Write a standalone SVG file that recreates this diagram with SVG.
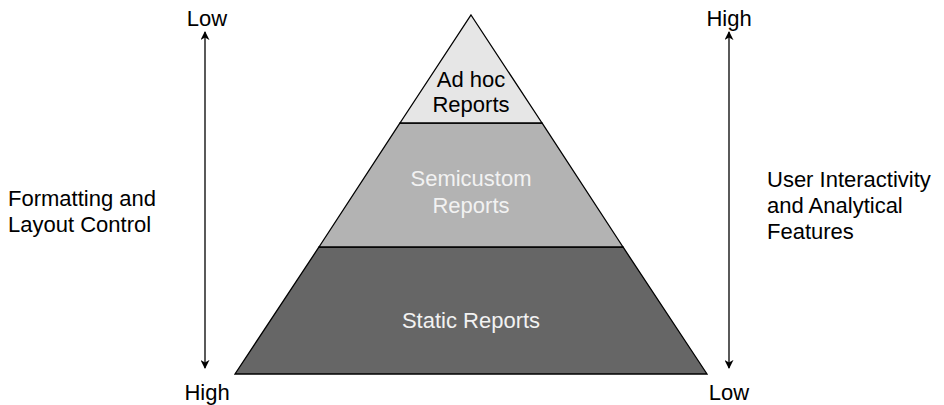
<svg xmlns="http://www.w3.org/2000/svg" width="944" height="405" viewBox="0 0 944 405">
  <style>
    text { font-family: "Liberation Sans", Arial, sans-serif; font-size: 22px; fill: #000; }
    .c { text-anchor: middle; }
    .light { fill: #f2f2f2; }
    .tier { stroke: #000; stroke-width: 1.3; stroke-linejoin: miter; }
    .axis { stroke: #000; stroke-width: 1.3; fill: none; }
  </style>
  <defs>
    <marker id="head" viewBox="0 0 10 10" refX="9" refY="5" markerWidth="9" markerHeight="9" markerUnits="userSpaceOnUse" orient="auto-start-reverse">
      <path d="M0,0 L10,5 L0,10 L3,5 Z" fill="#000"/>
    </marker>
  </defs>

  <!-- pyramid tiers -->
  <g id="static-reports">
    <polygon class="tier" points="319,247 623,247 707,374 235,374" fill="#666666"/>
    <text class="c light" x="471" y="328">Static Reports</text>
  </g>
  <g id="semicustom-reports">
    <polygon class="tier" points="400,123 542,123 623,247 319,247" fill="#b3b3b3"/>
    <text class="c light" x="471" y="186">Semicustom</text>
    <text class="c light" x="471" y="213">Reports</text>
  </g>
  <g id="adhoc-reports">
    <polygon class="tier" points="471,15 542,123 400,123" fill="#e6e6e6"/>
    <text class="c" x="471" y="87">Ad hoc</text>
    <text class="c" x="471" y="112">Reports</text>
  </g>

  <!-- scale axes -->
  <g id="connectors">
    <line class="axis" x1="205" y1="32" x2="205" y2="368" marker-start="url(#head)" marker-end="url(#head)"/>
    <line class="axis" x1="729" y1="32" x2="729" y2="368" marker-start="url(#head)" marker-end="url(#head)"/>
  </g>

  <g id="left-scale">
    <text class="c" x="207" y="26">Low</text>
    <text class="c" x="207" y="400">High</text>
    <text x="8" y="206">Formatting and</text>
    <text x="8" y="232">Layout Control</text>
  </g>
  <g id="right-scale">
    <text class="c" x="729" y="26">High</text>
    <text class="c" x="729" y="400">Low</text>
    <text x="767" y="187">User Interactivity</text>
    <text x="767" y="213">and Analytical</text>
    <text x="767" y="239">Features</text>
  </g>
</svg>
